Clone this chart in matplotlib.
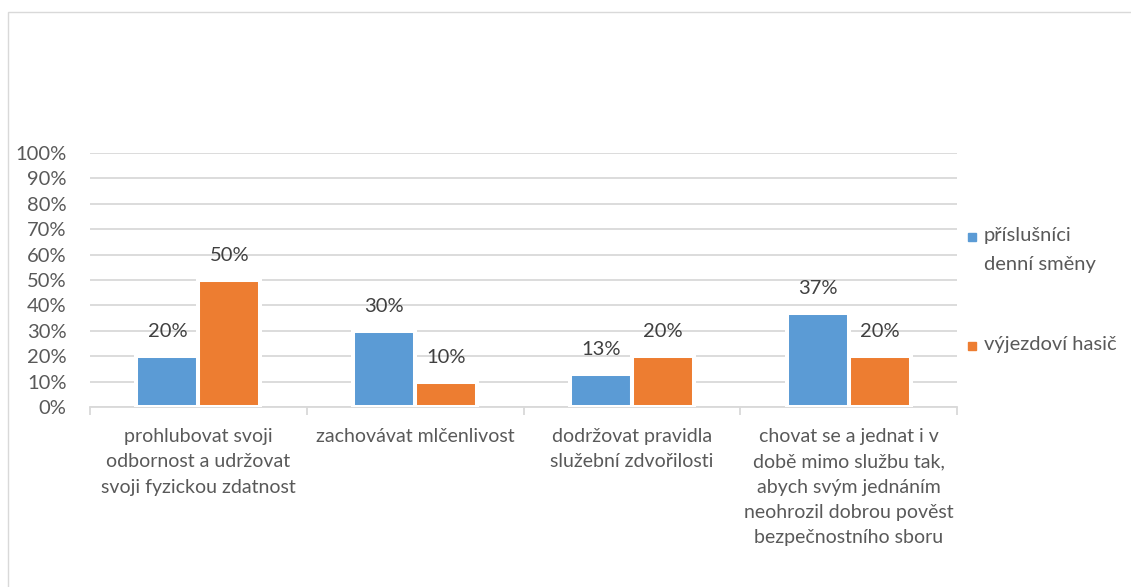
import matplotlib.pyplot as plt
from matplotlib.patches import Rectangle
import numpy as np

plt.rcParams['font.family'] = ['Lato', 'DejaVu Sans']

# data
categories = [
    'prohlubovat svoji\nodbornost a udržovat\nsvoji fyzickou zdatnost',
    'zachovávat mlčenlivost',
    'dodržovat pravidla\nslužební zdvořilosti',
    'chovat se a jednat i v\ndobě mimo službu tak,\nabych svým jednáním\nneohrozil dobrou pověst\nbezpečnostního sboru',
]
series_names = ['příslušníci\ndenní směny', 'výjezdoví hasič']
denni = [20, 30, 13, 37]
vyjezd = [50, 10, 20, 20]
colors = ['#5B9BD5', '#ED7D31']

W, H = 1131, 587
fig = plt.figure(figsize=(W / 100, H / 100), dpi=100)
ax = fig.add_axes([90 / W, (H - 407) / H, (957 - 90) / W, (407 - 153) / H])

x = np.arange(len(categories))
bw = 0.286
off = 0.143
for vals, c, sign in [(denni, colors[0], -1), (vyjezd, colors[1], 1)]:
    bars = ax.bar(x + sign * off, vals, width=bw, color=c,
                  edgecolor='white', linewidth=2.9, zorder=3)
    for b, v in zip(bars, vals):
        ax.annotate(f'{v}%', (b.get_x() + b.get_width() / 2, v),
                    xytext=(0, 17.5), textcoords='offset points',
                    ha='center', va='center', fontsize=14.5,
                    color='#404040', zorder=4)

ax.set_xlim(-0.5, len(categories) - 0.5)
ax.set_ylim(0, 100)
ax.set_yticks(range(0, 101, 10))
ax.set_yticklabels([f'{t}%' for t in range(0, 101, 10)])
ax.yaxis.grid(True, color='#D9D9D9', linewidth=1.3, zorder=0)
ax.tick_params(axis='y', length=0, pad=17, labelsize=14.5, labelcolor='#595959')

ax.set_xticks(x)
ax.set_xticklabels(categories, fontsize=14, color='#595959', linespacing=1.6)
ax.tick_params(axis='x', length=0, pad=15)
# boundary tick marks between categories
ax.set_xticks(np.arange(-0.5, len(categories)), minor=True)
ax.tick_params(axis='x', which='minor', length=6, color='#D9D9D9', width=1.3)

for s in ['top', 'right', 'left']:
    ax.spines[s].set_visible(False)
ax.spines['bottom'].set_color('#D9D9D9')
ax.spines['bottom'].set_linewidth(1.3)

# legend drawn by hand to keep the Excel look
leg_y = [(H - 237) / H, (H - 346) / H]
for name, c, ly in zip(series_names, colors, leg_y):
    fig.patches.append(Rectangle((968 / W, ly - 4 / H), 8 / W, 8 / H,
                                 transform=fig.transFigure, color=c))
    fig.text(984 / W, ly + 10 / H, name, fontsize=14.5, color='#595959',
             va='top', ha='left', linespacing=1.85)

# chart frame
fig.patches.append(Rectangle((8 / W, -0.1), 1.2, (H - 12) / H + 0.1,
                             transform=fig.transFigure, fill=False,
                             edgecolor='#D9D9D9', linewidth=1))

fig.savefig('out.png', dpi=100)
